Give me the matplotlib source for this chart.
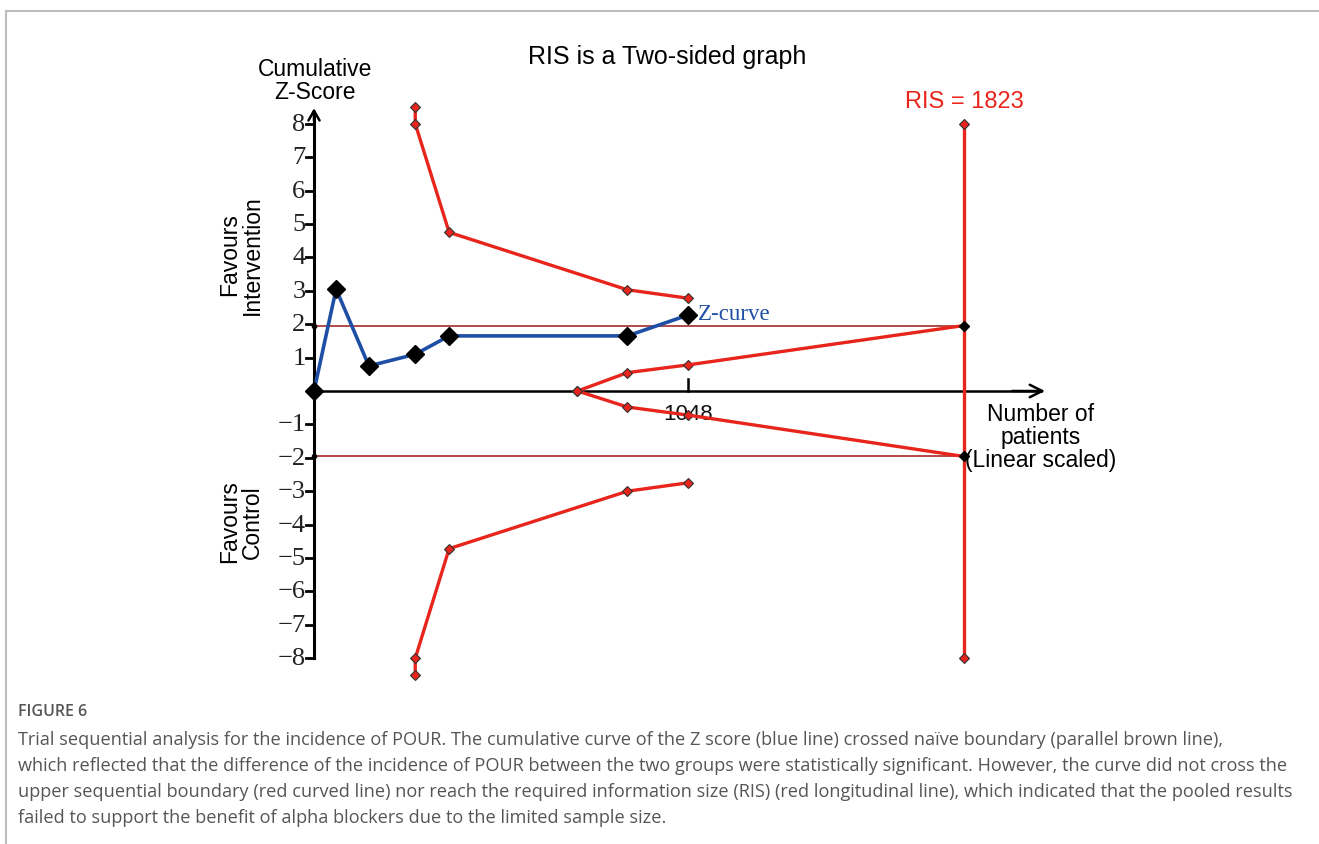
import numpy as np
import matplotlib.pyplot as plt
from matplotlib.lines import Line2D

# cumulative Z-curve
z_n = [0, 62, 154, 284, 379, 879, 1048]
z_val = [0, 3.05, 0.75, 1.1, 1.65, 1.65, 2.27]

# upper / lower sequential monitoring boundaries
b_n = [284, 284, 379, 879, 1048]
b_upper = [8.5, 8.0, 4.75, 3.03, 2.78]
b_lower = [-8.5, -8.0, -4.72, -3.0, -2.75]

# futility wedge (inner boundaries)
w_n = [739, 879, 1048, 1823]
w_upper = [0, 0.55, 0.78, 1.96]
w_lower = [0, -0.48, -0.72, -1.96]

ris = 1823
naive = 1.96
yticks = [-8, -7, -6, -5, -4, -3, -2, -1, 1, 2, 3, 4, 5, 6, 7, 8]

W, H = 1319, 845
fig = plt.figure(figsize=(W / 100, H / 100), dpi=100)

# pixel layout of the plotting area
px_per_n = (964 - 314) / ris
px_per_z = 33.4
x0_px, y0_px = 314, 392
left_px, right_px, top_px, bot_px = 314, 1100, 90, 700
xlim = (0, (right_px - x0_px) / px_per_n)
ylim = (-(bot_px - y0_px) / px_per_z, (y0_px - top_px) / px_per_z)
ax = fig.add_axes([left_px / W, 1 - bot_px / H, (right_px - left_px) / W, (bot_px - top_px) / H])
ax.set_xlim(xlim)
ax.set_ylim(ylim)
ax.patch.set_alpha(0)
for s in ax.spines.values():
    s.set_visible(False)
ax.set_xticks([])
ax.set_yticks([])

red = '#e8251c'
brown = '#a52a2a'
blue = '#1f4fa5'

# axes with arrow heads
ax.plot([0, 0], [-8, 8.3], color='black', lw=2.2, clip_on=False, zorder=3)
ax.annotate('', xy=(0, 8.55), xytext=(0, 8.0),
            arrowprops=dict(arrowstyle='->,head_length=0.7,head_width=0.4', lw=1.8, color='black'))
ax.plot([0, 2040], [0, 0], color='black', lw=1.8, zorder=3)
ax.annotate('', xy=(2058, 0), xytext=(1950, 0),
            arrowprops=dict(arrowstyle='->,head_length=0.9,head_width=0.45', lw=1.8, color='black'))

# y ticks drawn to the left of the axis
for t in yticks:
    ax.plot([-22, 0], [t, t], color='black', lw=2, clip_on=False, zorder=3)
    lab = str(t).replace('-', '\u2212')
    ax.text(-24, t, lab, ha='right', va='center', fontsize=19,
            family='Liberation Serif', color='#222222')

# x tick at 1048
ax.plot([1048, 1048], [0, 0.35], color='black', lw=1.8, zorder=3)
ax.text(1048, -0.68, '1048', ha='center', va='center', fontsize=16,
        family='Liberation Sans', color='#111111', zorder=2)

# naive boundaries
for yv in (naive, -naive):
    ax.plot([0, ris], [yv, yv], color=brown, lw=1.2, zorder=2)
    ax.plot([0], [yv], 'o', color='black', ms=3, clip_on=False, zorder=4)

# sequential boundaries
mk = dict(marker='D', ms=5, mfc=red, mec='#333333', mew=0.8)
ax.plot(b_n, b_upper, color=red, lw=2.4, zorder=4, clip_on=False, **mk)
ax.plot(b_n, b_lower, color=red, lw=2.4, zorder=4, clip_on=False, **mk)
ax.plot(w_n[:-1], w_upper[:-1], color=red, lw=2.4, zorder=4, **mk)
ax.plot(w_n[:-1], w_lower[:-1], color=red, lw=2.4, zorder=4, **mk)
ax.plot(w_n[-2:], w_upper[-2:], color=red, lw=2.4, zorder=4)
ax.plot(w_n[-2:], w_lower[-2:], color=red, lw=2.4, zorder=4)

# RIS line
ax.plot([ris, ris], [-8, 8], color=red, lw=2.4, zorder=4)
ax.plot([ris, ris], [-8, 8], ls='none', **mk, zorder=5)
ax.plot([ris, ris], [-naive, naive], 'D', color='black', ms=5, zorder=5)

# Z-curve
ax.plot(z_n, z_val, color=blue, lw=2.6, marker='D', ms=9, mfc='black', mec='black', zorder=6, clip_on=False)
ax.text(z_n[-1] + 28, z_val[-1] + 0.05, 'Z-curve', color=blue, fontsize=16.5,
        family='Liberation Serif', ha='left', va='center')

# labels
ax.text(ris, 8.35, 'RIS = 1823', color=red, fontsize=17, family='Liberation Sans',
        ha='center', va='bottom')
fig.text(667 / W, 1 - 57 / H, 'RIS is a Two-sided graph', ha='center', va='center',
         fontsize=18, family='Liberation Sans')
fig.text(315 / W, 1 - 81 / H, 'Cumulative\nZ-Score', ha='center', va='center',
         fontsize=16.5, family='Liberation Sans', linespacing=0.95)
fig.text(241 / W, 1 - 255 / H, 'Favours\nIntervention', ha='center', va='center',
         rotation=90, fontsize=16.5, family='Liberation Sans', linespacing=0.95)
fig.text(241 / W, 1 - 522 / H, 'Favours\nControl', ha='center', va='center',
         rotation=90, fontsize=16.5, family='Liberation Sans', linespacing=0.95)
fig.text(1041 / W, 1 - 438 / H, 'Number of\npatients\n(Linear scaled)', ha='center',
         va='center', fontsize=16.5, family='Liberation Sans', linespacing=1.0)

# caption
cap = ("Trial sequential analysis for the incidence of POUR. The cumulative curve of the Z score (blue line) crossed na\u00efve boundary (parallel brown line),\n"
       "which reflected that the difference of the incidence of POUR between the two groups were statistically significant. However, the curve did not cross the\n"
       "upper sequential boundary (red curved line) nor reach the required information size (RIS) (red longitudinal line), which indicated that the pooled results\n"
       "failed to support the benefit of alpha blockers due to the limited sample size.")
fig.text(18 / W, 1 - 712 / H, 'FIGURE 6', ha='left', va='center', fontsize=11.5,
         family='Open Sans', color='#555555', weight='semibold')
fig.text(18 / W, 1 - 731 / H, cap, ha='left', va='top', fontsize=13.1,
         family='Open Sans', color='#555555', linespacing=1.56)

# page frame
fig.add_artist(Line2D([6 / W, 1], [1 - 12 / H, 1 - 12 / H], color='#bdbdbd', lw=1.5))
fig.add_artist(Line2D([6 / W, 6 / W], [0, 1 - 12 / H], color='#bdbdbd', lw=1.5))

fig.savefig('out.png', dpi=100)
